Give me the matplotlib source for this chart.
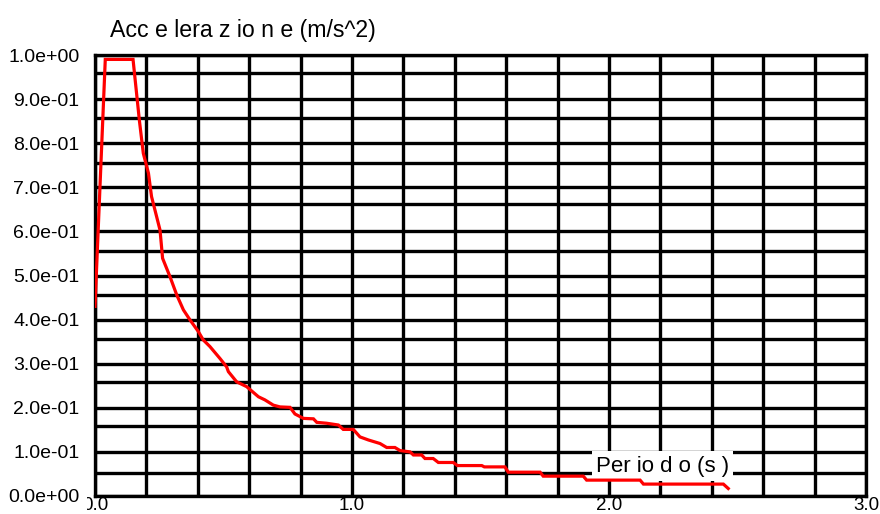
import numpy as np
import matplotlib
matplotlib.use('Agg')
import matplotlib.pyplot as plt

plt.rcParams['font.family'] = ['Liberation Sans', 'DejaVu Sans']

# spectrum (periodo T in s, accelerazione)
periodo = [0.0, 0.04, 0.148, 0.173, 0.188, 0.208, 0.220, 0.253, 0.263, 0.292,
           0.318, 0.344, 0.370, 0.402, 0.421, 0.447, 0.486, 0.512, 0.519, 0.551,
           0.590, 0.636, 0.661, 0.694, 0.720, 0.759, 0.778, 0.811, 0.850, 0.863,
           0.901, 0.947, 0.966, 1.005, 1.031, 1.064, 1.109, 1.135, 1.167, 1.187,
           1.226, 1.239, 1.271, 1.284, 1.316, 1.336, 1.394, 1.410, 1.505, 1.515,
           1.595, 1.608, 1.732, 1.744, 1.900, 1.913, 2.121, 2.134, 2.445, 2.464]
accel = [0.43, 0.99, 0.99, 0.85, 0.777, 0.732, 0.679, 0.603, 0.539, 0.497,
         0.456, 0.422, 0.399, 0.373, 0.354, 0.339, 0.312, 0.293, 0.282, 0.259,
         0.248, 0.225, 0.218, 0.206, 0.202, 0.201, 0.186, 0.176, 0.175, 0.167,
         0.165, 0.161, 0.151, 0.151, 0.134, 0.127, 0.119, 0.110, 0.110, 0.103,
         0.100, 0.093, 0.093, 0.085, 0.085, 0.076, 0.076, 0.069, 0.069, 0.066,
         0.066, 0.054, 0.054, 0.045, 0.045, 0.036, 0.036, 0.027, 0.027, 0.017]

x_labels = [0.0, 1.0, 2.0, 3.0]
y_labels = [0.0, 0.1, 0.2, 0.3, 0.4, 0.5, 0.6, 0.7, 0.8, 0.9, 1.0]
y_extra = [0.052, 0.159, 0.259, 0.356, 0.456, 0.556, 0.662, 0.755, 0.857, 0.959]

fig = plt.figure(figsize=(8.8, 5.14), dpi=100)
ax = fig.add_axes([95/880, 1-496/514, 771/880, 441/514])

lw = 2.4
ax.plot(periodo, accel, color='#ff0000', lw=2.3, zorder=3, solid_joinstyle='miter')

ax.set_xlim(0, 3.0)
ax.set_ylim(0, 1.0)
ax.set_xticks(x_labels)
ax.set_xticklabels(['%.1f' % v for v in x_labels])
ax.set_yticks(y_labels)
ax.set_yticklabels(['%.1e' % v for v in y_labels])
ax.set_xticks(np.arange(0, 3.01, 0.2), minor=True)
ax.set_yticks(y_extra, minor=True)
ax.set_axisbelow(True)
ax.grid(which='both', color='black', lw=lw)
ax.tick_params(which='both', length=0)
ax.tick_params(axis='x', pad=1, labelsize=13.5)
ax.tick_params(axis='y', pad=11, labelsize=14)
for s in ax.spines.values():
    s.set_linewidth(lw)
# white box behind the y labels (it hides part of the "0.0" on the x axis)
for t in ax.get_yticklabels():
    t.set_bbox(dict(facecolor='white', edgecolor='none', pad=5.5))

fig.text(110/880, 1-37/514, 'Acc e lera z io n e (m/s^2)', fontsize=16.7,
         va='baseline')

ax.text(2.208, 0.068, 'Per io d o (s )', fontsize=16, ha='center', va='center',
        zorder=1, bbox=dict(facecolor='white', edgecolor='none', pad=3))

fig.savefig('out.png', dpi=100)
